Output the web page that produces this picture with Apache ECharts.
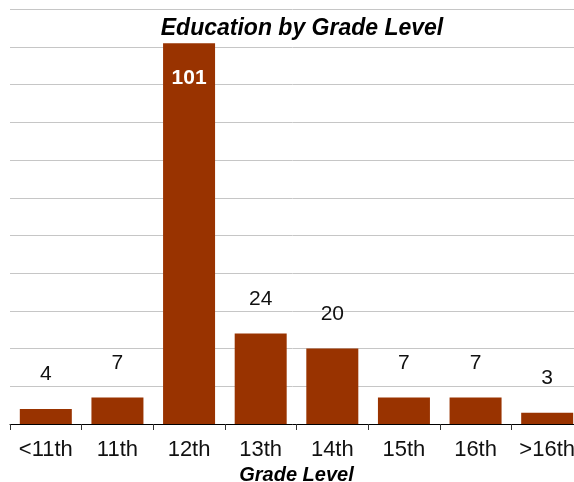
<!DOCTYPE html>
<html>
<head>
<meta charset="utf-8">
<script src="https://cdn.jsdelivr.net/npm/echarts@6/dist/echarts.min.js"></script>
<style>
  html, body { margin: 0; padding: 0; background: #fff; }
  #chart { width: 574px; height: 482px; }
</style>
</head>
<body>
<div id="chart"></div>
<script>
// data
const grades = ['<11th', '11th', '12th', '13th', '14th', '15th', '16th', '>16th'];
const counts = [4, 7, 101, 24, 20, 7, 7, 3];

const barColor = '#993300';

var myChart = echarts.init(document.getElementById('chart'));

const option = {
  animation: false,
  title: {
    text: 'Education by Grade Level',
    left: 297,
    textAlign: 'center',
    top: 12,
    textStyle: {
      fontFamily: 'Liberation Sans',
      fontSize: 23,
      fontWeight: 'bold',
      fontStyle: 'italic',
      color: '#000'
    }
  },
  grid: {
    left: 10,
    right: -9,   // last category runs off the right edge, as in the original
    top: 9.3,
    bottom: 58,
    outerBoundsMode: 'none'
  },
  xAxis: {
    type: 'category',
    data: grades,
    name: 'Grade Level',
    nameLocation: 'middle',
    nameGap: 40,
    nameTextStyle: {
      fontFamily: 'Liberation Sans',
      fontSize: 20,
      fontWeight: 'bold',
      fontStyle: 'italic',
      color: '#000'
    },
    axisLine: { lineStyle: { color: '#000', width: 1 } },
    axisTick: { show: true, length: 6, lineStyle: { color: '#333' } },
    axisLabel: {
      fontFamily: 'Liberation Sans',
      fontSize: 22,
      color: '#111',
      margin: 15,
      interval: 0
    }
  },
  yAxis: {
    type: 'value',
    min: 0,
    max: 110,
    interval: 10,
    axisLine: { show: false },
    axisTick: { show: false },
    axisLabel: { show: false },
    splitLine: { lineStyle: { color: '#c6c6c6', width: 1 } }
  },
  series: [
    {
      type: 'bar',
      data: counts.map(function (v) {
        // the tall bar keeps its label inside, in white
        if (v > 50) {
          return {
            value: v,
            label: {
              position: 'insideTop',
              distance: 24,
              color: '#fff',
              fontWeight: 'bold',
              fontSize: 21
            }
          };
        }
        return v;
      }),
      barWidth: 52,
      itemStyle: { color: barColor },
      label: {
        show: true,
        position: 'top',
        distance: 24,
        fontFamily: 'Liberation Sans',
        fontSize: 21,
        color: '#111'
      }
    }
  ]
};

myChart.setOption(option);
</script>
</body>
</html>
